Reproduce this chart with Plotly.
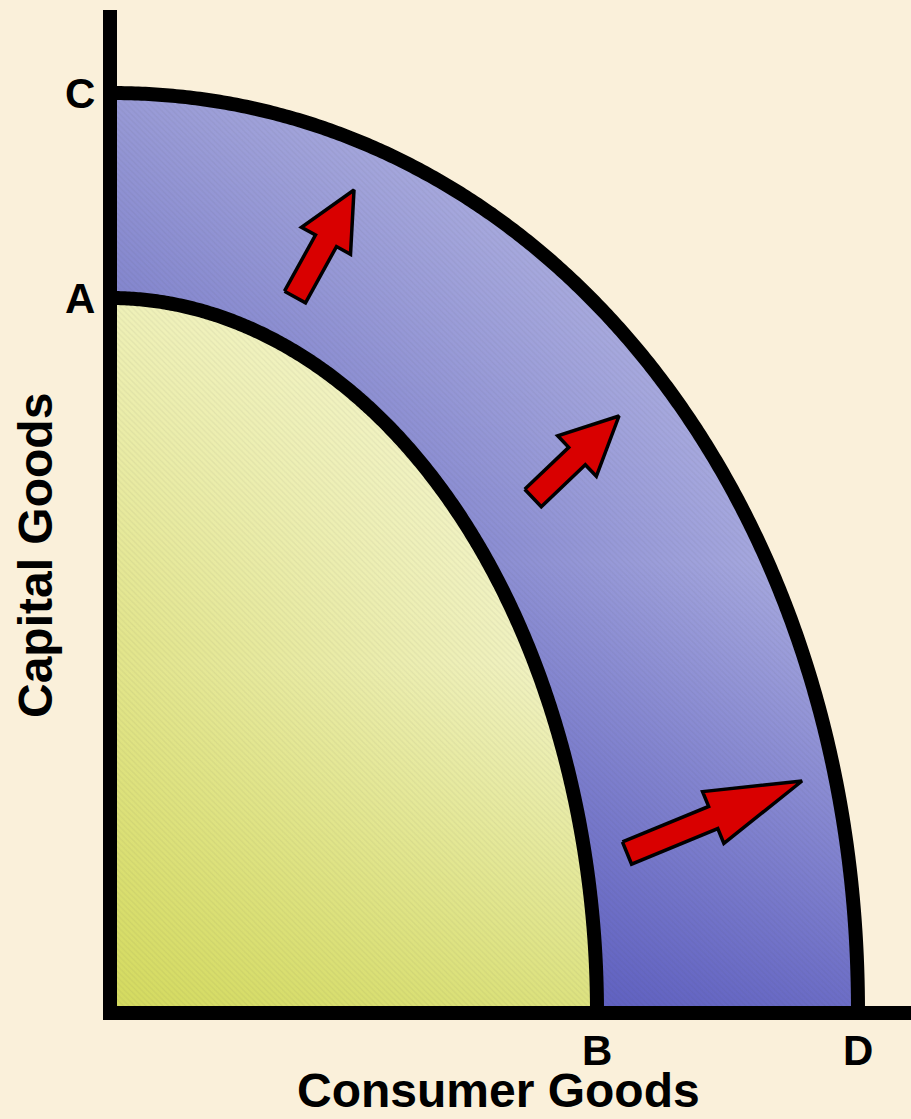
import numpy as np
import plotly.graph_objects as go

# Production possibilities frontiers (before and after growth)
frontiers = ["initial", "expanded"]
capital_max = [7.15, 9.20]        # A, C  (capital-goods intercepts)
consumer_max = [4.87, 7.48]       # B, D  (consumer-goods intercepts)
curve_power = [2.0, 2.05]         # bow of each frontier
capital_labels = ["A", "C"]
consumer_labels = ["B", "D"]
axis_titles = ["Consumer Goods", "Capital Goods"]

# Outward-shift arrows: (tail, head, head length) in chart units
shift_arrows = [
    ((1.85, 7.16), (2.44, 8.23), 0.58),
    ((4.23, 5.15), (5.09, 5.97), 0.58),
    ((5.17, 1.60), (6.92, 2.32), 0.96),
]
SHAFT_W = 0.24
HEAD_W = 0.56

BG = "#faf0da"
FONT = "Liberation Sans, Arial, sans-serif"


def frontier(cmax, kmax, p, n=360):
    t = np.linspace(np.pi / 2, 0, n)
    x = cmax * np.cos(t) ** (2 / p)
    y = kmax * np.sin(t) ** (2 / p)
    return x, y


def arrow_polygon(tail, head, head_len):
    t = np.array(tail, float)
    h = np.array(head, float)
    d = (h - t) / np.linalg.norm(h - t)
    nrm = np.array([-d[1], d[0]])
    b = h - d * head_len
    pts = [t + nrm * SHAFT_W / 2, b + nrm * SHAFT_W / 2, b + nrm * HEAD_W / 2, h,
           b - nrm * HEAD_W / 2, b - nrm * SHAFT_W / 2, t - nrm * SHAFT_W / 2,
           t + nrm * SHAFT_W / 2]
    return [p[0] for p in pts], [p[1] for p in pts]


xi, yi = frontier(consumer_max[0], capital_max[0], curve_power[0])
xo, yo = frontier(consumer_max[1], capital_max[1], curve_power[1])

fig = go.Figure()
no_line = dict(width=0, simplify=False)

# inner region (attainable before growth)
inner_x = np.concatenate([[0], xi, [0]])
inner_y = np.concatenate([[0], yi, [0]])
fig.add_trace(go.Scatter(
    x=inner_x, y=inner_y, mode="none", fill="toself", line=no_line,
    fillgradient=dict(type="horizontal",
                      colorscale=[[0, "#e2e58a"], [1, "#f3f4ca"]]),
    hoverinfo="skip"))
fig.add_trace(go.Scatter(
    x=inner_x, y=inner_y, mode="none", fill="toself", line=no_line,
    fillgradient=dict(type="vertical",
                      colorscale=[[0, "rgba(198,208,50,0.50)"],
                                  [0.49, "rgba(198,208,50,0)"],
                                  [0.51, "rgba(255,255,240,0)"],
                                  [1, "rgba(255,255,240,0.45)"]]),
    hoverinfo="skip"))

# band gained by the outward shift
band_x = np.concatenate([xo, [consumer_max[1], consumer_max[0]], xi[::-1], [0, 0]])
band_y = np.concatenate([yo, [0, 0], yi[::-1], [capital_max[0], capital_max[1]]])
fig.add_trace(go.Scatter(
    x=band_x, y=band_y, mode="none", fill="toself", line=no_line,
    fillgradient=dict(type="horizontal",
                      colorscale=[[0, "#686bc3"], [1, "#aeb0e2"]]),
    hoverinfo="skip"))
fig.add_trace(go.Scatter(
    x=band_x, y=band_y, mode="none", fill="toself", line=no_line,
    fillgradient=dict(type="vertical",
                      colorscale=[[0, "rgba(40,40,170,0.50)"],
                                  [0.49, "rgba(40,40,170,0)"],
                                  [0.51, "rgba(255,255,255,0)"],
                                  [1, "rgba(255,255,255,0.32)"]]),
    hoverinfo="skip"))

# fine diagonal hatching over both regions
for px_, py_ in [(inner_x, inner_y), (band_x, band_y)]:
    fig.add_trace(go.Scatter(
        x=px_, y=py_, mode="none", fill="toself", fillcolor="rgba(0,0,0,0)",
        line=no_line,
        fillpattern=dict(shape="\\", size=4, solidity=0.3,
                         fgcolor="rgba(60,60,60,0.14)", bgcolor="rgba(0,0,0,0)"),
        hoverinfo="skip"))

# frontier curves
for cx, cy in [(xi, yi), (xo, yo)]:
    fig.add_trace(go.Scatter(x=cx, y=cy, mode="lines",
                             line=dict(color="black", width=14, simplify=False),
                             hoverinfo="skip"))

# shift arrows
for tail, head, hl in shift_arrows:
    ax_, ay_ = arrow_polygon(tail, head, hl)
    fig.add_trace(go.Scatter(x=ax_, y=ay_, mode="lines", fill="toself",
                             fillcolor="#d90000",
                             line=dict(color="black", width=3.5, simplify=False),
                             hoverinfo="skip"))

# axes
fig.add_shape(type="line", x0=0, x1=0, y0=-0.07, y1=10.03,
              line=dict(color="black", width=14))
fig.add_shape(type="line", x0=-0.07, x1=8.3, y0=0, y1=0,
              line=dict(color="black", width=14))

lab_font = dict(family=FONT, size=42, color="black", weight="bold")
for lab, val in zip(capital_labels, capital_max):
    fig.add_annotation(x=-0.30, y=val, text=lab, showarrow=False,
                       xanchor="center", yanchor="middle", font=lab_font)
for lab, val in zip(consumer_labels, consumer_max):
    fig.add_annotation(x=val, y=-0.37, text=lab, showarrow=False,
                       xanchor="center", yanchor="middle", font=lab_font)

title_font = dict(family=FONT, size=48, color="black", weight="bold")
fig.add_annotation(x=3.88, y=-0.77, text=axis_titles[0], showarrow=False,
                   xanchor="center", yanchor="middle", font=title_font)
fig.add_annotation(x=-0.75, y=4.57, text=axis_titles[1], showarrow=False,
                   textangle=-90, xanchor="center", yanchor="middle",
                   font=title_font)

fig.update_layout(
    width=911, height=1119,
    margin=dict(l=0, r=0, t=0, b=0),
    paper_bgcolor=BG, plot_bgcolor=BG,
    showlegend=False,
    xaxis=dict(range=[-1.10, 8.01], visible=False, fixedrange=True),
    yaxis=dict(range=[-1.06, 10.13], visible=False, fixedrange=True),
)

fig.write_html("out.html")
